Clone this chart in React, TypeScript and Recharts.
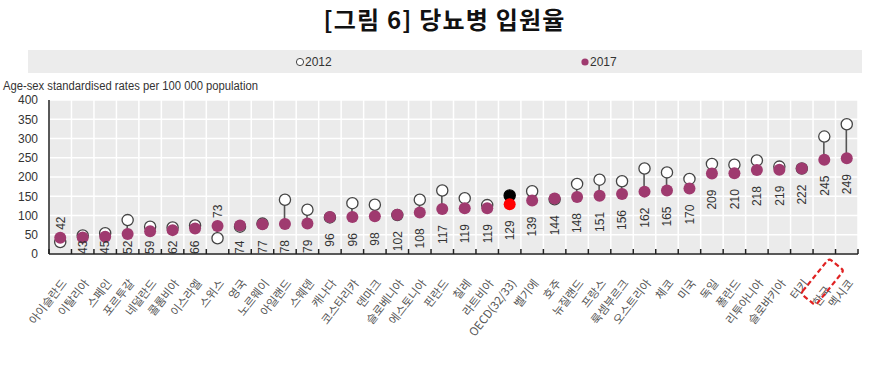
import React from "react";
import {
  ComposedChart,
  Bar,
  Line,
  XAxis,
  YAxis,
  CartesianGrid,
  LabelList,
} from "recharts";

const countries = [
  "아이슬란드", "이탈리아", "스페인", "포르투갈", "네덜란드", "콜롬비아",
  "이스라엘", "스위스", "영국", "노르웨이", "아일랜드", "스웨덴",
  "캐나다", "코스타리카", "덴마크", "슬로베니아", "에스토니아", "핀란드",
  "칠레", "라트비아", "OECD(32/33)", "벨기에", "호주", "뉴질랜드",
  "프랑스", "룩셈부르크", "오스트리아", "체코", "미국", "독일",
  "폴란드", "리투아니아", "슬로바키아", "터키", "한국", "멕시코",
];

const rate2017 = [
  42, 43, 45, 52, 59, 62, 66, 73, 74, 77, 78, 79,
  96, 96, 98, 102, 108, 117, 119, 119, 129, 139, 144, 148,
  151, 156, 162, 165, 170, 209, 210, 218, 219, 222, 245, 249,
];

const rate2012 = [
  31, 48, 54, 88, 71, 69, 74, 41, 71, 79, 141, 115,
  95, 132, 128, 101, 141, 165, 145, 127, 152, 163, 142, 182,
  193, 189, 222, 212, 195, 234, 232, 243, 227, 222, 305, 337,
];

const yTicks = [0, 50, 100, 150, 200, 250, 300, 350, 400];

const OECD = "OECD(32/33)";
const KOREA = "한국";
const PURPLE = "#9f3a6f";

const CHART_W = 889;
const CHART_H = 392;
const MARGIN = { top: 100, right: 31, bottom: 78, left: 0 };
const X_AXIS_H = 60;
const PLOT_BOTTOM = CHART_H - MARGIN.bottom - X_AXIS_H;

// label goes under the lower marker unless that marker sits too close to the axis
const data = countries.map((name, i) => {
  const lo = Math.min(rate2012[i], rate2017[i]);
  const hi = Math.max(rate2012[i], rate2017[i]);
  const above = lo < 43;
  return {
    name,
    v2012: rate2012[i],
    v2017: rate2017[i],
    range: [lo, hi],
    anchor: above ? hi : lo,
    above,
  };
});

const Dot2012 = (props: any) => {
  const { cx, cy, payload } = props;
  if (cx == null || cy == null) return null;
  const oecd = payload.name === OECD;
  return (
    <circle
      cx={cx}
      cy={cy}
      r={5.6}
      fill={oecd ? "#000" : "#fff"}
      stroke={oecd ? "#000" : "#444"}
      strokeWidth={1.3}
    />
  );
};

const Dot2017 = (props: any) => {
  const { cx, cy, payload } = props;
  if (cx == null || cy == null) return null;
  const oecd = payload.name === OECD;
  return <circle cx={cx} cy={cy} r={6} fill={oecd ? "#ff0000" : PURPLE} />;
};

const ValueLabel = (props: any) => {
  const { x, y, index } = props;
  if (x == null || y == null) return null;
  const d = data[index];
  const txt = String(d.v2017);
  const len = txt.length * 6.7;
  // keep labels under the marker but never past the axis line
  const ty = d.above ? y - 8 : Math.min(y + 16, PLOT_BOTTOM - len);
  return (
    <text
      x={x}
      y={ty}
      dy="0.36em"
      transform={`rotate(-90, ${x}, ${ty})`}
      textAnchor={d.above ? "start" : "end"}
      fontSize={12}
      fontFamily="'Liberation Sans', Arial, sans-serif"
      fill="#333"
    >
      {txt}
    </text>
  );
};

const CountryTick = (props: any) => {
  const { x, y, payload, index, width, visibleTicksCount } = props;
  const bw = width / visibleTicksCount;
  const last = index === visibleTicksCount - 1;
  const korea = payload.value === KOREA;
  // the Korea label sat a bit lower inside its box in the source
  const tx = x + 4;
  const ty = y + (korea ? 34 : 27);
  return (
    <g>
      <line x1={x - bw / 2} y1={y} x2={x - bw / 2} y2={y - 5} stroke="#222" strokeWidth={1.5} />
      {last && (
        <line x1={x + bw / 2} y1={y} x2={x + bw / 2} y2={y - 5} stroke="#222" strokeWidth={1.5} />
      )}
      <text
        x={tx}
        y={ty}
        dy="0.35em"
        transform={`rotate(-52, ${tx}, ${ty})`}
        textAnchor="end"
        fontSize={11.5}
        fontFamily="'Noto Sans CJK KR', sans-serif"
        fill="#555"
      >
        {payload.value}
      </text>
      {korea && (
        <rect
          x={x - 2 - 22.5}
          y={y + 28 - 9.5}
          width={45}
          height={19}
          rx={3}
          transform={`rotate(-51, ${x - 2}, ${y + 28})`}
          fill="none"
          stroke="#e02222"
          strokeWidth={2.2}
          strokeDasharray="5 3"
        />
      )}
    </g>
  );
};

const App = () => {
  const n = countries.length;
  return (
    <div
      style={{
        position: "absolute",
        left: 0,
        top: 0,
        width: CHART_W,
        height: CHART_H,
        background: "#fff",
        overflow: "hidden",
      }}
    >
      <div
        style={{
          position: "absolute",
          top: 3,
          left: 0,
          width: CHART_W,
          textAlign: "center",
          lineHeight: "32px",
          fontSize: 24,
          fontWeight: 700,
          letterSpacing: 1.2,
          fontFamily: "'Noto Sans CJK KR', sans-serif",
          color: "#111",
        }}
      >
        [그림 6] 당뇨병 입원율
      </div>

      {/* legend band + axis caption */}
      <svg
        width={CHART_W}
        height={100}
        style={{ position: "absolute", left: 0, top: 0 }}
      >
        <rect x={28} y={50} width={834} height={23} fill="#ececec" />
        <circle cx={300} cy={62} r={3.6} fill="#fff" stroke="#444" strokeWidth={1} />
        <text x={305} y={66} fontSize={12} fontFamily="'Liberation Sans', Arial, sans-serif" fill="#333">
          2012
        </text>
        <circle cx={585} cy={62} r={3.6} fill={PURPLE} />
        <text x={590} y={66} fontSize={12} fontFamily="'Liberation Sans', Arial, sans-serif" fill="#333">
          2017
        </text>
        <text
          x={3}
          y={90}
          fontSize={12}
          textLength={255}
          lengthAdjust="spacingAndGlyphs"
          fontFamily="'Liberation Sans', Arial, sans-serif"
          fill="#333"
        >
          Age-sex standardised rates per 100 000 population
        </text>
      </svg>

      <div style={{ position: "absolute", left: 0, top: 0 }}>
        <ComposedChart width={CHART_W} height={CHART_H} data={data} margin={MARGIN}>
          <CartesianGrid
            fill="#ebebeb"
            stroke="#fff"
            strokeWidth={1.5}
            verticalCoordinatesGenerator={({ offset }: any) =>
              Array.from({ length: n + 1 }, (_, i) => offset.left + (i * offset.width) / n)
            }
          />
          <XAxis
            dataKey="name"
            interval={0}
            height={X_AXIS_H}
            tickSize={0}
            tickMargin={0}
            tickLine={false}
            axisLine={{ stroke: "#222", strokeWidth: 1.5 }}
            tick={<CountryTick />}
          />
          <YAxis
            width={49}
            domain={[0, 400]}
            ticks={yTicks}
            interval={0}
            tickSize={5}
            tickMargin={6}
            tickLine={false}
            axisLine={{ stroke: "#222", strokeWidth: 1.5 }}
            tick={{ fontSize: 12, fill: "#333", fontFamily: "'Liberation Sans', Arial, sans-serif" }}
          />
          <Bar dataKey="range" barSize={1.6} fill="#555" isAnimationActive={false} />
          <Line
            dataKey="v2012"
            stroke="none"
            dot={<Dot2012 />}
            activeDot={false}
            isAnimationActive={false}
          />
          <Line
            dataKey="v2017"
            stroke="none"
            dot={<Dot2017 />}
            activeDot={false}
            isAnimationActive={false}
          />
          <Line
            dataKey="anchor"
            stroke="none"
            dot={false}
            activeDot={false}
            isAnimationActive={false}
          >
            <LabelList dataKey="anchor" content={<ValueLabel />} />
          </Line>
        </ComposedChart>
      </div>
    </div>
  );
};

export default App;
